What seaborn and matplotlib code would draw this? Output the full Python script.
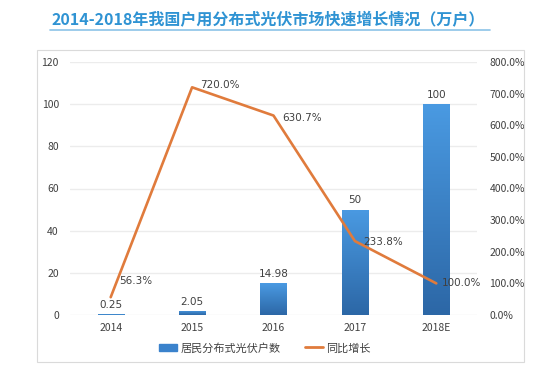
"""Household distributed PV growth in China, 2014-2018E."""

import numpy as np
import pandas as pd
import matplotlib
matplotlib.use("Agg")
import matplotlib.pyplot as plt
import matplotlib.patches as mpatches
from matplotlib.lines import Line2D
import seaborn as sns

# Data
years = ["2014", "2015", "2016", "2017", "2018E"]
households = [0.25, 2.05, 14.98, 50, 100]          # 万户
growth = [56.3, 720.0, 630.7, 233.8, 100.0]       # %
title = "2014-2018年我国户用分布式光伏市场快速增长情况（万户）"
bar_name = "居民分布式光伏户数"
line_name = "同比增长"

sns.set_theme(style="white")
plt.rcParams["font.family"] = ["Noto Sans CJK SC", "DejaVu Sans"]

BLUE_TOP = "#4a9ae2"
BLUE_BOT = "#2c67a6"
ORANGE = "#e07b3c"
TEXT = "#404040"
GRID = "#ececec"

df = pd.DataFrame({"year": years, "households": households, "growth": growth})

W, H = 557, 370
fig = plt.figure(figsize=(W / 100, H / 100), dpi=100)
fig.patch.set_facecolor("white")

# Title with underline
fig.text(268 / W, 1 - 20 / H, title, ha="center", va="center",
         fontsize=11.5, fontweight="bold", color="#2f93d3")
fig.add_artist(Line2D([50 / W, 490 / W], [1 - 30 / H, 1 - 30 / H],
                      transform=fig.transFigure, color="#8cc4e8", lw=1.2))

# Outer frame
fig.add_artist(mpatches.Rectangle((37 / W, 1 - 362 / H), (524 - 37) / W, (362 - 50) / H,
                                  transform=fig.transFigure, fill=False,
                                  edgecolor="#dadada", lw=0.8))

ax = fig.add_axes([70 / W, 1 - 315 / H, 407 / W, 253 / H])
sns.barplot(data=df, x="year", y="households", ax=ax, color=BLUE_TOP,
            width=0.32, saturation=1)

# gradient fill for bars
grad = np.linspace(0, 1, 256).reshape(-1, 1)
cmap = matplotlib.colors.LinearSegmentedColormap.from_list("bl", [BLUE_BOT, BLUE_TOP])
for p in ax.patches:
    x0, y0 = p.get_x(), p.get_y()
    w, h = p.get_width(), p.get_height()
    im = ax.imshow(grad, extent=[x0, x0 + w, y0, y0 + h], origin="lower",
                   cmap=cmap, aspect="auto", zorder=2)
    im.set_clip_path(p)
    p.set_facecolor("none")
    p.set_edgecolor("none")

ax.bar_label(ax.containers[0], labels=[f"{v:g}" for v in households],
             padding=3, fontsize=7.5, color=TEXT, family="DejaVu Sans")

ax.set_xlim(-0.5, 4.5)
ax.set_ylim(0, 120)
ax.set_yticks(range(0, 121, 20))
ax.yaxis.grid(True, color=GRID, lw=1.0)
ax.set_axisbelow(True)
ax.set_xlabel("")
ax.set_ylabel("")
for s in ax.spines.values():
    s.set_visible(False)
ax.tick_params(axis="y", length=0, pad=8, labelsize=7.5, labelcolor=TEXT)
ax.tick_params(axis="x", length=0, pad=6, labelsize=7.5, labelcolor=TEXT)

ax2 = ax.twinx()
sns.lineplot(x=np.arange(len(years)), y=df["growth"], ax=ax2, color=ORANGE,
             lw=1.9, zorder=5)
ax2.set_ylim(0, 800)
ax2.set_yticks(range(0, 801, 100))
ax2.set_yticklabels([f"{v:.1f}%" for v in range(0, 801, 100)])
ax2.set_ylabel("")
for s in ax2.spines.values():
    s.set_visible(False)
ax2.tick_params(axis="y", length=0, pad=9, labelsize=7.5, labelcolor=TEXT)

offsets = [(6, 12), (6, 2), (6, -2), (6, -1), (4, 0)]
for i, (v, off) in enumerate(zip(growth, offsets)):
    ax2.annotate(f"{v:.1f}%", (i, v), xytext=off, textcoords="offset points",
                 ha="left", va="center", fontsize=7.5, color=TEXT,
                 family="DejaVu Sans", zorder=6)

handles = [mpatches.Patch(color="#3a82cc", label=bar_name),
           Line2D([0], [0], color=ORANGE, lw=2.0, label=line_name)]
fig.legend(handles=handles, loc="center", bbox_to_anchor=(265 / W, 1 - 348 / H),
           ncol=2, frameon=False, fontsize=8, handlelength=1.6,
           handletextpad=0.3, columnspacing=2.2, labelcolor=TEXT)

fig.savefig("out.png", dpi=100)
